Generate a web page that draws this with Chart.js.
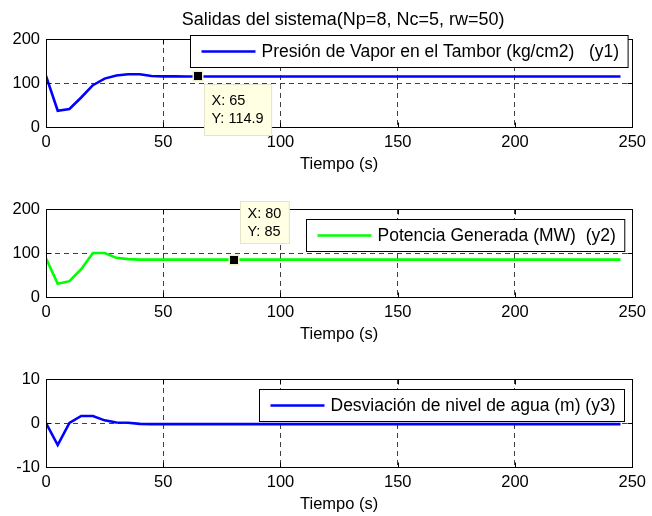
<!DOCTYPE html>
<html>
<head>
<meta charset="utf-8">
<script src="https://cdn.jsdelivr.net/npm/chart.js@4.4.1/dist/chart.umd.min.js"></script>
<style>
  html, body { margin: 0; padding: 0; background: #fff; overflow: hidden; width: 652px; height: 516px; }
  canvas { position: absolute; left: 0; }
</style>
</head>
<body>
<canvas id="chartY1" width="652" height="177" style="top:0px"></canvas>
<canvas id="chartY2" width="652" height="170" style="top:177px"></canvas>
<canvas id="chartY3" width="652" height="170" style="top:347px"></canvas>
<script>
// Datos (muestreo cada 5 s)
const tiempo = [0, 5, 10, 15, 20, 25, 30, 35, 40, 45, 50, 55, 60, 65, 70, 75, 80, 85, 90, 95,
  100, 105, 110, 115, 120, 125, 130, 135, 140, 145, 150, 155, 160, 165, 170, 175, 180, 185, 190, 195,
  200, 205, 210, 215, 220, 225, 230, 235, 240, 245];

const presionVapor = [116, 37, 41, 67, 95, 110, 117, 120, 120, 116, 115, 115, 114.9, 114.9, 114.9, 114.9, 114.9, 114.9, 114.9, 114.9,
  114.9, 114.9, 114.9, 114.9, 114.9, 114.9, 114.9, 114.9, 114.9, 114.9, 114.9, 114.9, 114.9, 114.9, 114.9, 114.9, 114.9, 114.9, 114.9, 114.9,
  114.9, 114.9, 114.9, 114.9, 114.9, 114.9, 114.9, 114.9, 114.9, 114.9];

const potenciaGenerada = [88, 30, 36, 63, 100, 100, 89, 86, 85, 85, 85, 85, 85, 85, 85, 85, 85, 85, 85, 85,
  85, 85, 85, 85, 85, 85, 85, 85, 85, 85, 85, 85, 85, 85, 85, 85, 85, 85, 85, 85,
  85, 85, 85, 85, 85, 85, 85, 85, 85, 85];

const desviacionNivel = [0, -5, 0, 1.6, 1.6, 0.6, 0.1, 0.05, -0.2, -0.25, -0.25, -0.25, -0.25, -0.25, -0.25, -0.25, -0.25, -0.25, -0.25, -0.25,
  -0.25, -0.25, -0.25, -0.25, -0.25, -0.25, -0.25, -0.25, -0.25, -0.25, -0.25, -0.25, -0.25, -0.25, -0.25, -0.25, -0.25, -0.25, -0.25, -0.25,
  -0.25, -0.25, -0.25, -0.25, -0.25, -0.25, -0.25, -0.25, -0.25, -0.25];

const ticksTiempo = [0, 50, 100, 150, 200, 250];
const ticksY1 = [0, 100, 200];
const ticksY2 = [0, 100, 200];
const ticksY3 = [-10, 0, 10];

const FONT = '"Liberation Sans", Arial, Helvetica, sans-serif';

// marco, ticks hacia dentro, leyenda y datatips estilo MATLAB
const matlabDeco = {
  id: 'matlabDeco',
  afterDatasetsDraw(chart, args, o) {
    const { ctx, chartArea: a, scales } = chart;
    ctx.save();
    ctx.strokeStyle = '#000';
    ctx.lineWidth = 1;
    const L = Math.round(a.left) + 0.5, R = Math.round(a.right) + 0.5;
    const T = Math.round(a.top) + 0.5, B = Math.round(a.bottom) + 0.5;
    ctx.strokeRect(L, T, R - L, B - T);
    ctx.beginPath();
    scales.x.ticks.forEach(t => {
      const px = Math.round(scales.x.getPixelForValue(t.value)) + 0.5;
      ctx.moveTo(px, B); ctx.lineTo(px, B - 5);
      ctx.moveTo(px, T); ctx.lineTo(px, T + 5);
    });
    scales.y.ticks.forEach(t => {
      const py = Math.round(scales.y.getPixelForValue(t.value)) + 0.5;
      ctx.moveTo(L, py); ctx.lineTo(L + 5, py);
      ctx.moveTo(R, py); ctx.lineTo(R - 5, py);
    });
    ctx.stroke();
    ctx.restore();
  },
  afterDraw(chart, args, o) {
    const { ctx, chartArea: a, scales } = chart;
    ctx.save();
    // titulo general
    if (o.title) {
      ctx.fillStyle = '#000';
      ctx.font = '18px ' + FONT;
      ctx.textAlign = 'center';
      ctx.textBaseline = 'middle';
      ctx.fillText(o.title, (a.left + a.right) / 2 + 4, 20);
    }
    // leyenda
    if (o.legend) {
      ctx.font = '17.5px ' + FONT;
      const tw = ctx.measureText(o.legend.text).width;
      const w = 11 + 54 + 6 + tw + 9, h = 32;
      const right = a.right - o.legend.dx;
      const x = Math.round(right - w) + 0.5, y = Math.round(a.top + o.legend.dy) + 0.5;
      ctx.fillStyle = '#fff';
      ctx.fillRect(x, y, w, h);
      ctx.strokeStyle = '#000';
      ctx.lineWidth = 1;
      ctx.strokeRect(x, y, w, h);
      ctx.strokeStyle = o.legend.color;
      ctx.lineWidth = 2.6;
      ctx.beginPath();
      ctx.moveTo(x + 11, y + h / 2);
      ctx.lineTo(x + 65, y + h / 2);
      ctx.stroke();
      ctx.fillStyle = '#000';
      ctx.textBaseline = 'middle';
      ctx.textAlign = 'left';
      ctx.fillText(o.legend.text, x + 71, y + h / 2 + 1);
    }
    // datatip
    if (o.tip) {
      const px = scales.x.getPixelForValue(o.tip.x);
      const py = scales.y.getPixelForValue(o.tip.y);
      ctx.font = '14.5px ' + FONT;
      const lines = ['X: ' + o.tip.x, 'Y: ' + o.tip.y];
      const tw = Math.max(...lines.map(s => ctx.measureText(s).width));
      const w = tw + 15, h = o.tip.h;
      const bx = Math.round(px + 6) + 0.5;
      const by = Math.round(o.tip.below ? py + 8 : py - 17 - h) + 0.5;
      ctx.fillStyle = '#ffffe4';
      ctx.fillRect(bx, by, w, h);
      ctx.strokeStyle = '#e4e4cc';
      ctx.lineWidth = 1;
      ctx.strokeRect(bx, by, w, h);
      ctx.fillStyle = '#000';
      ctx.textAlign = 'left';
      ctx.textBaseline = 'middle';
      ctx.fillText(lines[0], bx + 7, by + h / 2 - 9);
      ctx.fillText(lines[1], bx + 7, by + h / 2 + 9);
      // marcador
      ctx.fillStyle = '#f2eecb';
      ctx.fillRect(Math.round(px) - 5.5, Math.round(py) - 5.5, 11, 11);
      ctx.fillStyle = '#000';
      ctx.fillRect(Math.round(px) - 4, Math.round(py) - 4, 8, 8);
    }
    ctx.restore();
  }
};

function makeChart(id, values, color, yMin, yMax, yTicks, padTop, deco) {
  return new Chart(document.getElementById(id), {
    type: 'line',
    data: {
      datasets: [{
        data: values.map((v, i) => ({ x: tiempo[i], y: v })),
        borderColor: color,
        borderWidth: 2.6,
        pointRadius: 0,
        tension: 0,
        fill: false
      }]
    },
    options: {
      responsive: false,
      animation: false,
      events: [],
      layout: { padding: { top: padTop, right: 19, left: 0, bottom: 0 } },
      plugins: {
        legend: { display: false },
        tooltip: { enabled: false },
        matlabDeco: deco
      },
      scales: {
        x: {
          type: 'linear',
          min: 0,
          max: 250,
          afterBuildTicks: s => { s.ticks = ticksTiempo.map(v => ({ value: v })); },
          afterFit: s => { s.height = 50; },
          grid: { color: 'rgba(0,0,0,0.75)', lineWidth: 1, drawTicks: false },
          border: { display: false, dash: [5, 4] },
          ticks: { padding: 6, color: '#000', font: { family: FONT, size: 16.5 }, maxRotation: 0 },
          title: { display: true, text: 'Tiempo (s)', color: '#000', font: { family: FONT, size: 16.5 }, padding: { top: 0, bottom: 3 } }
        },
        y: {
          min: yMin,
          max: yMax,
          afterBuildTicks: s => { s.ticks = yTicks.map(v => ({ value: v })); },
          afterFit: s => { s.width = 46; },
          grid: { color: 'rgba(0,0,0,0.75)', lineWidth: 1, drawTicks: false },
          border: { display: false, dash: [5, 4] },
          ticks: { padding: 6, color: '#000', font: { family: FONT, size: 16.5 } }
        }
      }
    },
    plugins: [matlabDeco]
  });
}

makeChart('chartY1', presionVapor, '#0000ff', 0, 200, ticksY1, 39, {
  title: 'Salidas del sistema(Np=8, Nc=5, rw=50)',
  legend: { text: 'Presión de Vapor en el Tambor (kg/cm2)   (y1)', color: '#0000ff', dx: 5, dy: -4 },
  tip: { x: 65, y: 114.9, below: true, h: 51 }
});

makeChart('chartY2', potenciaGenerada, '#00ff00', 0, 200, ticksY2, 32, {
  legend: { text: 'Potencia Generada (MW)  (y2)', color: '#00ff00', dx: 8, dy: 10 },
  tip: { x: 80, y: 85, below: false, h: 42 }
});

makeChart('chartY3', desviacionNivel, '#0000ff', -10, 10, ticksY3, 32, {
  legend: { text: 'Desviación de nivel de agua (m) (y3)', color: '#0000ff', dx: 8, dy: 10 }
});
</script>
</body>
</html>
